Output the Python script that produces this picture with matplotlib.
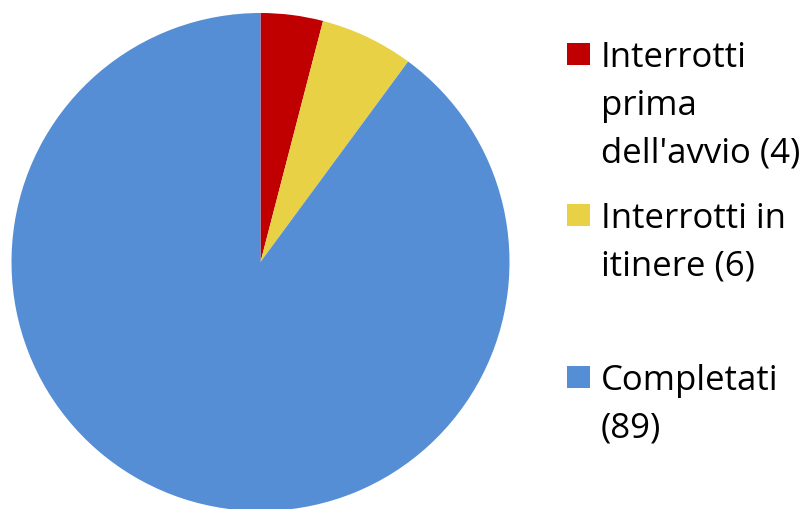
import matplotlib.pyplot as plt
from matplotlib.patches import Rectangle

# data
labels = ["Interrotti\nprima\ndell'avvio (4)", "Interrotti in\nitinere (6)", "Completati\n(89)"]
values = [4, 6, 89]
colors = ["#C00000", "#E8D144", "#558ED5"]

W, H = 812, 510
fig = plt.figure(figsize=(W / 100, H / 100), dpi=100)

# pie axes: center (260.5, 263), radius ~249 px
cx, cy, r = 260.5, 263, 249
ax = fig.add_axes([(cx - r) / W, (H - cy - r) / H, 2 * r / W, 2 * r / H])
ax.pie(values, colors=colors, startangle=90, counterclock=False,
       wedgeprops=dict(linewidth=0), radius=1)
ax.set_xlim(-1, 1)
ax.set_ylim(-1, 1)
ax.set_aspect("equal")
ax.axis("off")

# legend drawn by hand (wrapped labels, uneven spacing like the original)
marker_y = [55, 216, 378]
for lab, col, my in zip(labels, colors, marker_y):
    fig.patches.append(Rectangle((567 / W, (H - my - 11) / H), 23 / W, 22 / H,
                                 transform=fig.transFigure, facecolor=col,
                                 edgecolor="none"))
    fig.text(601 / W, (H - my + 14) / H, lab, transform=fig.transFigure,
             fontsize=25, family="Open Sans", va="top", ha="left",
             linespacing=1.52, color="black")

fig.savefig("out.png", dpi=100)
